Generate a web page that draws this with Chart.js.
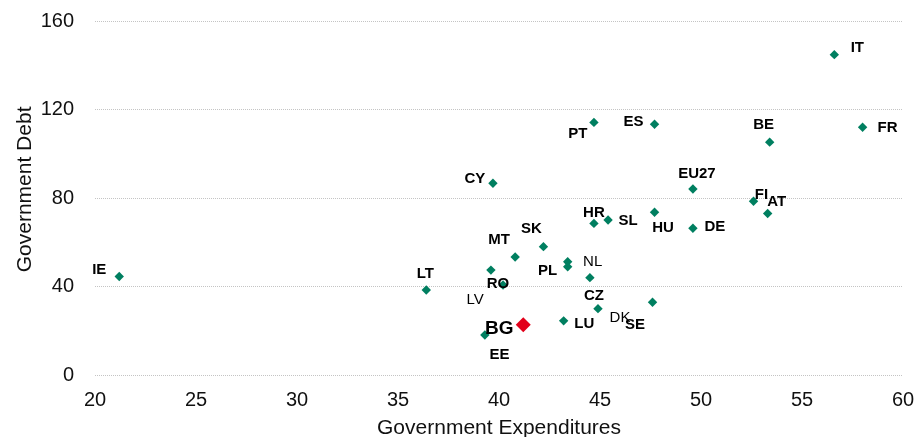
<!DOCTYPE html>
<html>
<head>
<meta charset="utf-8">
<script src="https://cdn.jsdelivr.net/npm/chart.js@4/dist/chart.umd.min.js"></script>
<style>
  html, body { margin: 0; padding: 0; background: #ffffff; }
  #wrap { width: 918px; height: 437px; position: relative; }
</style>
</head>
<body>
<div id="wrap"><canvas id="c"></canvas></div>
<script>
// ---- data ----
const countries    = ['IT','FR','BE','ES','PT','EU27','CY','FI','AT','HU','SL','HR','DE','SK','MT','NL','PL','RO','CZ','IE','LV','LT','SE','DK','LU','EE','BG'];
const expenditures = [56.6, 58.0, 53.4, 47.7, 44.7, 49.6, 39.7, 52.6, 53.3, 47.7, 45.4, 44.7, 49.6, 42.2, 40.8, 43.4, 43.4, 39.6, 44.5, 21.2, 40.2, 36.4, 47.6, 44.9, 43.2, 39.3, 41.2];
const debt         = [144.8, 112.0, 105.3, 113.4, 114.2, 84.1, 86.7, 78.6, 73.1, 73.6, 70.1, 68.6, 66.4, 58.1, 53.4, 51.3, 49.0, 47.5, 44.1, 44.6, 40.8, 38.5, 33.0, 30.1, 24.6, 18.2, 22.8];
const highlighted  = 'BG';
const xTicks = [20, 25, 30, 35, 40, 45, 50, 55, 60];
const yTicks = [0, 40, 80, 120, 160];
const xTitle = 'Government Expenditures';
const yTitle = 'Government Debt';

// ---- label placement (layout only: text-centre offset from the marker, style) ----
const labelPlacement = {
  IT:   [23, -7, 'b'],  FR: [25, 1, 'b'],   BE: [-6, -17.5, 'b'], ES: [-21, -2, 'b'],
  PT:   [-16, 11, 'b'], EU27: [4, -15.5, 'b'], CY: [-18, -4.5, 'b'], FI: [8, -6, 'b'],
  AT:   [9, -11.7, 'b'], HU: [8.5, 15.7, 'b'], SL: [20, 1, 'b'],  HR: [0, -11, 'b'],
  DE:   [22, -1.7, 'b'], SK: [-12, -17.7, 'b'], MT: [-16, -17, 'b'], NL: [25, 0, 'n'],
  PL:   [-20, 4, 'b'],  RO: [7, 14, 'b'],   CZ: [4, 18, 'b'],    IE: [-20, -6.5, 'b'],
  LV:   [-28, 15, 'n'], LT: [-1, -16, 'b'], SE: [-17.6, 22.7, 'b'], DK: [22, 9.6, 'n'],
  LU:   [20.7, 3.5, 'b'], EE: [14.7, 20, 'b'], BG: [-24, 4, 'big']
};
const labelFonts = {
  b:   'bold 15px "Liberation Sans", Arial, sans-serif',
  n:   '15px "Liberation Sans", Arial, sans-serif',
  big: 'bold 19px "Liberation Sans", Arial, sans-serif'
};

const GREEN = '#007f60';
const RED = '#e2001a';
const FONT = '"Liberation Sans", Arial, sans-serif';

const points = countries.map((c, i) => ({ x: expenditures[i], y: debt[i], name: c }));

const labelPlugin = {
  id: 'pointLabels',
  afterDatasetsDraw(chart) {
    const ctx = chart.ctx;
    const xs = chart.scales.x, ys = chart.scales.y;
    ctx.save();
    ctx.fillStyle = '#000000';
    ctx.textAlign = 'center';
    ctx.textBaseline = 'middle';
    points.forEach(p => {
      const pl = labelPlacement[p.name] || [0, -14, 'b'];
      ctx.font = labelFonts[pl[2]];
      ctx.fillText(p.name, xs.getPixelForValue(p.x) + pl[0], ys.getPixelForValue(p.y) + pl[1]);
    });
    ctx.restore();
  }
};

new Chart(document.getElementById('c'), {
  type: 'scatter',
  data: {
    datasets: [{
      data: points,
      pointStyle: 'rectRot',
      pointRadius: ctx => (points[ctx.dataIndex] && points[ctx.dataIndex].name === highlighted) ? 7.5 : 4.7,
      pointBackgroundColor: ctx => (points[ctx.dataIndex] && points[ctx.dataIndex].name === highlighted) ? RED : GREEN,
      pointBorderColor: ctx => (points[ctx.dataIndex] && points[ctx.dataIndex].name === highlighted) ? RED : GREEN,
      pointBorderWidth: 0,
      pointHoverRadius: 5
    }]
  },
  options: {
    responsive: true,
    maintainAspectRatio: false,
    animation: false,
    devicePixelRatio: 1,
    layout: { padding: { top: 21, right: 15, left: 0, bottom: 0 } },
    plugins: { legend: { display: false }, tooltip: { enabled: false } },
    scales: {
      x: {
        type: 'linear',
        min: xTicks[0], max: xTicks[xTicks.length - 1],
        afterBuildTicks: s => { s.ticks = xTicks.map(v => ({ value: v })); },
        afterFit: s => { s.height = 61.7; s.paddingLeft = 0; s.paddingRight = 0; },
        grid: { display: false, drawTicks: false },
        border: { display: false },
        ticks: { color: '#111', padding: 13, font: { family: FONT, size: 20 } },
        title: { display: true, text: xTitle, color: '#111', font: { family: FONT, size: 21, lineHeight: 1 }, padding: { top: 0, bottom: -2 } }
      },
      y: {
        type: 'linear',
        min: yTicks[0], max: yTicks[yTicks.length - 1],
        afterBuildTicks: s => { s.ticks = yTicks.map(v => ({ value: v })); },
        afterFit: s => { s.width = 95; s.paddingTop = 0; s.paddingBottom = 0; },
        grid: { color: '#c4c4c4', lineWidth: 1, drawTicks: false },
        border: { display: false, dash: [1, 1] },
        ticks: { color: '#111', padding: 21, font: { family: FONT, size: 20 } },
        title: { display: true, text: '   ' + yTitle, color: '#111', font: { family: FONT, size: 21, lineHeight: 1 }, padding: { top: 15, bottom: 0 } }
      }
    }
  },
  plugins: [labelPlugin]
});
</script>
</body>
</html>
